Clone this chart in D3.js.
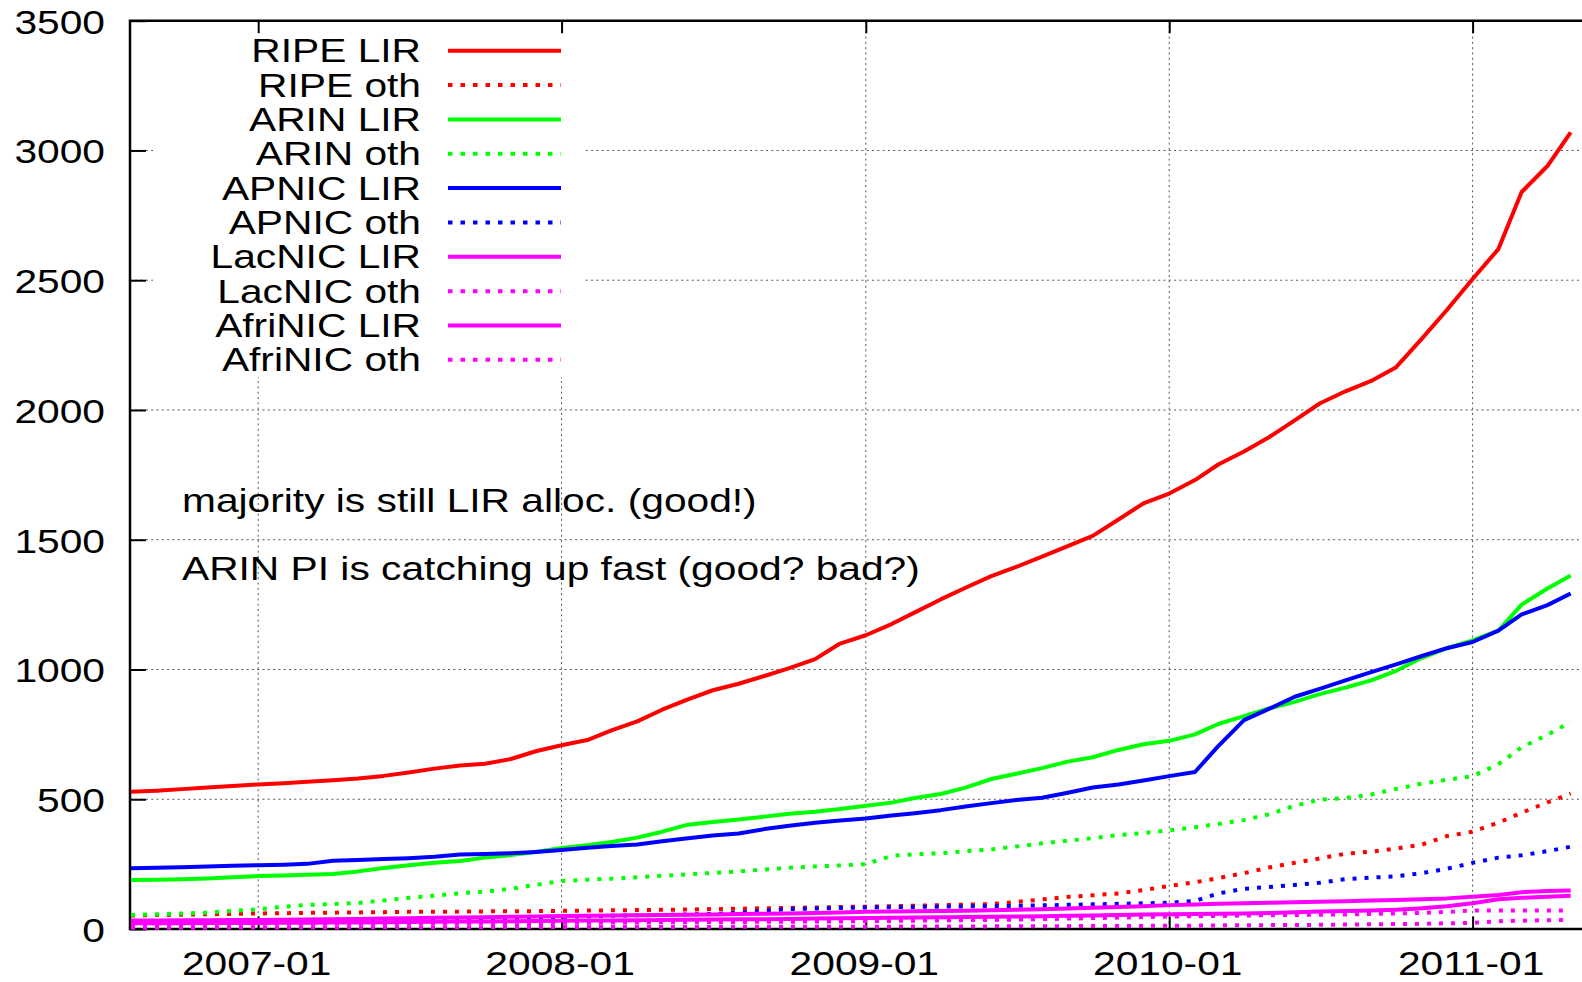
<!DOCTYPE html>
<html>
<head>
<meta charset="utf-8">
<script src="https://cdn.jsdelivr.net/npm/d3@7"></script>
<style>
  body { margin: 0; background: #fff; }
  svg { display: block; font-family: 'Liberation Sans', Arial, Helvetica, sans-serif; }
</style>
</head>
<body>
<svg id="chart" width="1582" height="982"></svg>
<script>
// sample dates (month starts, last point = end of data)
const dates = [
  '2006-08-01', '2006-09-01', '2006-10-01', '2006-11-01', '2006-12-01',
  '2007-01-01', '2007-02-01', '2007-03-01', '2007-04-01', '2007-05-01', '2007-06-01',
  '2007-07-01', '2007-08-01', '2007-09-01', '2007-10-01', '2007-11-01', '2007-12-01',
  '2008-01-01', '2008-02-01', '2008-03-01', '2008-04-01', '2008-05-01', '2008-06-01',
  '2008-07-01', '2008-08-01', '2008-09-01', '2008-10-01', '2008-11-01', '2008-12-01',
  '2009-01-01', '2009-02-01', '2009-03-01', '2009-04-01', '2009-05-01', '2009-06-01',
  '2009-07-01', '2009-08-01', '2009-09-01', '2009-10-01', '2009-11-01', '2009-12-01',
  '2010-01-01', '2010-02-01', '2010-03-01', '2010-04-01', '2010-05-01', '2010-06-01',
  '2010-07-01', '2010-08-01', '2010-09-01', '2010-10-01', '2010-11-01', '2010-12-01',
  '2011-01-01', '2011-02-01', '2011-03-01', '2011-04-01', '2011-04-29'
];

const ripeLir = [
  529, 533, 539, 545, 551,
  557, 562, 567, 573, 580, 590, 603, 618, 630, 637, 655, 685,
  708, 728, 765, 800, 845, 885, 920, 945, 975, 1005, 1040, 1100,
  1132, 1175, 1220, 1270, 1315, 1360, 1395, 1435, 1475, 1515, 1578, 1640,
  1678, 1730, 1790, 1840, 1895, 1960, 2025, 2072, 2112, 2165, 2275, 2385,
  2505, 2620, 2840, 2940, 3070
];
const ripeOth = [
  52, 54, 55, 57, 58,
  60, 61, 62, 63, 64, 65, 66, 66, 67, 68, 68, 69,
  70, 71, 72, 73, 74, 75, 77, 78, 80, 81, 83, 85,
  86, 88, 90, 92, 94, 96, 104, 114, 124, 130, 137, 150,
  166, 180, 196, 215, 237, 255, 272, 290, 298, 310, 325, 358,
  375, 410, 448, 488, 522
];
const arinLir = [
  189, 190, 192, 195, 199,
  204, 206, 209, 212, 222, 235, 246, 255, 262, 275, 285, 297,
  312, 323, 335, 352, 375, 402, 412, 422, 433, 444, 452, 462,
  475, 487, 505, 520, 545, 578, 598, 620, 645, 662, 690, 712,
  725, 750, 790, 820, 850, 875, 905, 930, 958, 995, 1045, 1082,
  1112, 1150, 1250, 1312, 1362
];
const arinOth = [
  54, 57, 60, 63, 70,
  76, 86, 93, 96, 100, 110, 120, 128, 138, 144, 155, 170,
  185, 190, 194, 199, 205, 211, 216, 222, 229, 236, 241, 245,
  250, 282, 288, 292, 300, 306, 318, 330, 340, 350, 362, 370,
  380, 392, 405, 420, 442, 475, 498, 505, 518, 540, 560, 575,
  589, 635, 700, 748, 798
];
const apnicLir = [
  234, 236, 238, 241, 244,
  246, 248, 251, 263, 266, 270, 273, 278, 287, 289, 292, 297,
  304, 313, 320, 326, 338, 350, 360, 368, 385, 398, 409, 418,
  426, 437, 446, 458, 472, 485, 497, 506, 525, 545, 557, 572,
  589, 605, 705, 805, 848, 895, 925, 958, 990, 1020, 1052, 1082,
  1106, 1150, 1212, 1248, 1293
];
const apnicOth = [
  28, 29, 30, 31, 32,
  33, 34, 35, 36, 37, 38, 39, 40, 41, 42, 43, 45,
  47, 49, 51, 53, 54, 56, 58, 63, 70, 77, 79, 81,
  83, 84, 85, 86, 87, 88, 89, 91, 93, 95, 97, 99,
  101, 108, 137, 155, 162, 170, 178, 192, 198, 203, 215, 232,
  255, 275, 284, 300, 317
];
const lacnicLir = [
  33, 33, 34, 34, 35,
  35, 36, 37, 38, 39, 40, 41, 43, 44, 45, 47, 48,
  50, 51, 52, 53, 54, 55, 56, 58, 59, 60, 62, 64,
  66, 67, 68, 69, 70, 72, 74, 76, 79, 82, 85, 88,
  92, 94, 97, 99, 101, 103, 105, 107, 110, 112, 115, 118,
  124, 131, 142, 146, 148
];
const lacnicOth = [
  18, 18, 18, 19, 19,
  20, 20, 20, 21, 21, 21, 22, 22, 22, 23, 23, 23,
  24, 24, 25, 25, 26, 26, 27, 27, 28, 28, 29, 29,
  30, 31, 32, 33, 34, 35, 36, 38, 40, 42, 44, 46,
  48, 49, 50, 52, 53, 54, 55, 56, 58, 60, 62, 66,
  71, 71, 71, 71, 72
];
const afrinicLir = [
  22, 22, 22, 23, 23,
  23, 24, 24, 25, 25, 26, 27, 28, 29, 29, 30, 31,
  32, 33, 33, 34, 35, 36, 37, 38, 38, 39, 40, 41,
  42, 43, 44, 45, 46, 47, 48, 49, 51, 52, 54, 56,
  57, 58, 59, 60, 62, 65, 67, 69, 71, 74, 80, 88,
  99, 115, 120, 124, 128
];
const afrinicOth = [
  5, 5, 5, 5, 6,
  6, 6, 6, 6, 7, 7, 7, 7, 7, 7, 8, 8,
  8, 8, 8, 8, 8, 8, 8, 9, 9, 9, 9, 9,
  9, 9, 10, 10, 10, 10, 11, 11, 11, 12, 12, 12,
  13, 13, 14, 14, 15, 15, 16, 17, 18, 19, 20, 22,
  24, 30, 32, 34, 35
];

const seriesLabels = ['RIPE LIR', 'RIPE oth', 'ARIN LIR', 'ARIN oth', 'APNIC LIR',
    'APNIC oth', 'LacNIC LIR', 'LacNIC oth', 'AfriNIC LIR', 'AfriNIC oth'];
const seriesValues = [ripeLir, ripeOth, arinLir, arinOth, apnicLir,
    apnicOth, lacnicLir, lacnicOth, afrinicLir, afrinicOth];

const yTicks = [0, 500, 1000, 1500, 2000, 2500, 3000, 3500];
const xTicks = ['2007-01-01', '2008-01-01', '2009-01-01', '2010-01-01', '2011-01-01'];
const notes = ['majority is still LIR alloc. (good!)', 'ARIN PI is catching up fast (good? bad?)'];

// styles
const colors = ['#ff0000', '#ff0000', '#00ff00', '#00ff00', '#0000ff',
    '#0000ff', '#ff00ff', '#ff00ff', '#ff00ff', '#ff00ff'];
const dotted = [false, true, false, true, false, true, false, true, false, true];

const box = {left: 130, top: 20.7, bottom: 929, right: 1582};
const fontSize = 34, stretch = 1.198;

const parse = d3.utcParse('%Y-%m-%d');
const x = d3.scaleUtc()
    .domain([parse('2006-08-01'), parse('2011-05-12')])
    .range([131, 1581.5]);
const y = d3.scaleLinear().domain([0, 3500]).range([box.bottom, box.top]);

const svg = d3.select('#chart');

function label(g, tx, ty, text, anchor) {
  return g.append('text')
      .attr('transform', `translate(${tx},${ty}) scale(${stretch},1)`)
      .attr('text-anchor', anchor)
      .style('font-size', fontSize + 'px')
      .style('fill', '#000')
      .text(text);
}

// grid
const grid = svg.append('g').attr('class', 'grid')
    .style('stroke', '#555').style('stroke-width', 1).style('stroke-dasharray', '2,3.3');
grid.selectAll('.hgrid').data(yTicks.slice(1, -1)).enter().append('line')
    .attr('class', 'hgrid')
    .attr('x1', box.left).attr('x2', box.right)
    .attr('y1', d => y(d)).attr('y2', d => y(d));
grid.selectAll('.vgrid').data(xTicks).enter().append('line')
    .attr('class', 'vgrid')
    .attr('x1', d => x(parse(d))).attr('x2', d => x(parse(d)))
    .attr('y1', box.top).attr('y2', box.bottom);

// key background hides the grid
svg.append('rect').attr('x', 153).attr('y', 23).attr('width', 432).attr('height', 354)
    .style('fill', '#fff');

// axes
const yAxis = d3.axisLeft(y).tickValues(yTicks).tickSize(-16).tickFormat(d3.format('d'));
const gy = svg.append('g').attr('transform', `translate(${box.left},0)`).call(yAxis);
gy.select('.domain').remove();
gy.selectAll('.tick line').style('stroke', '#000').style('stroke-width', 2);
gy.selectAll('.tick text')
    .attr('x', null).attr('dy', null)
    .attr('transform', `translate(-25,12.3) scale(${stretch},1)`)
    .attr('text-anchor', 'end')
    .style('font-size', fontSize + 'px')
    .style('fill', '#000');

const xAxis = d3.axisBottom(x).tickValues(xTicks.map(parse)).tickSize(-12.5)
    .tickFormat(d3.utcFormat('%Y-%m'));
const gx = svg.append('g').attr('transform', `translate(0,${box.bottom})`).call(xAxis);
gx.select('.domain').remove();
gx.selectAll('.tick line').style('stroke', '#000').style('stroke-width', 2);
gx.selectAll('.tick text')
    .attr('y', null).attr('dy', null)
    .attr('transform', `translate(-2,46) scale(${stretch},1)`)
    .attr('text-anchor', 'middle')
    .style('font-size', fontSize + 'px')
    .style('fill', '#000');

const gt = svg.append('g').attr('transform', `translate(0,${box.top})`)
    .call(d3.axisTop(x).tickValues(xTicks.map(parse)).tickSize(-12.5).tickFormat(''));
gt.select('.domain').remove();
gt.selectAll('.tick line').style('stroke', '#000').style('stroke-width', 2);

svg.append('path')
    .attr('d', `M${box.right + 5},${box.top}H${box.left}V${box.bottom}H${box.right + 5}`)
    .style('fill', 'none').style('stroke', '#000').style('stroke-width', 2.5);

// series
const line = d3.line()
    .x((d, i) => x(parse(dates[i])))
    .y(d => y(d));
svg.append('g').attr('class', 'series').selectAll('path')
    .data(seriesValues).enter().append('path')
    .attr('d', line)
    .style('fill', 'none')
    .style('stroke', (d, i) => colors[i])
    .style('stroke-width', 4)
    .style('stroke-linejoin', 'round')
    .style('stroke-dasharray', (d, i) => dotted[i] ? '4,8' : null);

// key
const key = svg.append('g').attr('class', 'key');
seriesLabels.forEach((name, i) => {
  const ky = 50.7 + i * 34.35;
  label(key, 421, ky + 11.5, name, 'end');
  key.append('line')
      .attr('x1', 448).attr('x2', 561)
      .attr('y1', ky).attr('y2', ky)
      .style('stroke', colors[i])
      .style('stroke-width', 4)
      .style('stroke-dasharray', dotted[i] ? '4.5,8' : null);
});

// notes
const noteY = [511.7, 580];
notes.forEach((t, i) => label(svg, 182, noteY[i], t, 'start'));
</script>
</body>
</html>
